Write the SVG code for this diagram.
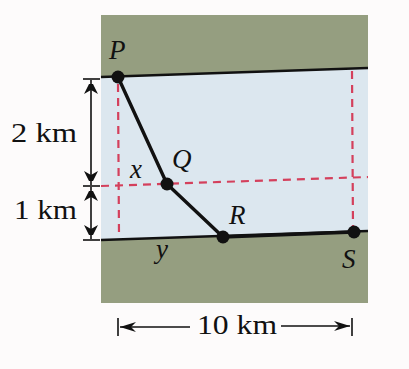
<svg xmlns="http://www.w3.org/2000/svg" width="409" height="369" viewBox="0 0 409 369">
<defs>
<marker id="ah" viewBox="0 0 10 14" refX="14" refY="7" markerWidth="10" markerHeight="14" markerUnits="userSpaceOnUse" orient="auto-start-reverse">
<path d="M0,0 L14,7 L0,14 L4,7 Z" fill="#111"/>
</marker>
<marker id="ah2" viewBox="0 0 16 12" refX="16" refY="6" markerWidth="16" markerHeight="12" markerUnits="userSpaceOnUse" orient="auto-start-reverse">
<path d="M0,1 L16,6 L0,11 L5,6 Z" fill="#111"/>
</marker>
<style>
.dash{stroke:#d4405c;stroke-width:2.2;stroke-dasharray:8 6;fill:none}
.bank{stroke:#111;stroke-width:2.4;fill:none}
.path{stroke:#111;stroke-width:3.4;fill:none;stroke-linecap:round}
.dot{fill:#111}
.lbl{font-family:'Liberation Serif','Times New Roman',serif;font-style:italic;font-size:27px;fill:#111}
.dim{font-family:'Liberation Serif','Times New Roman',serif;font-size:28px;fill:#111}
.dl{stroke:#111;stroke-width:1.6;fill:none}
</style>
</defs>
<rect x="0" y="0" width="409" height="369" fill="#fdfbfb"/>
<g id="land">
<rect x="101" y="15" width="267" height="288" fill="#959e80"/>
<polygon points="101,77 368,68 368,231 101,240" fill="#dce7ef"/>
</g>
<g id="banks">
<line class="bank" x1="101" y1="77" x2="368" y2="68"/>
<line class="bank" x1="101" y1="240" x2="368" y2="231"/>
</g>
<g id="guides">
<line class="dash" x1="118" y1="84" x2="119" y2="236"/>
<line class="dash" x1="101" y1="186" x2="368" y2="177"/>
<line class="dash" x1="352" y1="71" x2="353" y2="229"/>
</g>
<g id="connectors">
<polyline class="path" points="118,77 167,184 223,237 354,232"/>
</g>
<g id="P"><circle class="dot" cx="118" cy="77" r="6.5"/><text class="lbl" font-family="Liberation Serif" x="109" y="59">P</text></g>
<g id="Q"><circle class="dot" cx="167" cy="184" r="6.5"/><text class="lbl" font-family="Liberation Serif" x="172" y="168">Q</text><text class="lbl" font-family="Liberation Serif" x="130" y="178">x</text></g>
<g id="R"><circle class="dot" cx="223" cy="237" r="6.5"/><text class="lbl" font-family="Liberation Serif" x="229" y="224">R</text><text class="lbl" font-family="Liberation Serif" x="156" y="258">y</text></g>
<g id="S"><circle class="dot" cx="354" cy="232" r="6.5"/><text class="lbl" font-family="Liberation Serif" x="342" y="268">S</text></g>
<g id="dim-left">
<line class="dl" x1="83" y1="79" x2="100" y2="79"/>
<line class="dl" x1="83" y1="186" x2="100" y2="186"/>
<line class="dl" x1="83" y1="240" x2="100" y2="240"/>
<line class="dl" x1="91" y1="80" x2="91" y2="185" marker-start="url(#ah)" marker-end="url(#ah)"/>
<line class="dl" x1="91" y1="187" x2="91" y2="239" marker-start="url(#ah)" marker-end="url(#ah)"/>
<text class="dim" font-family="Liberation Serif" x="11" y="142" textLength="66" lengthAdjust="spacingAndGlyphs">2 km</text>
<text class="dim" font-family="Liberation Serif" x="14" y="219" textLength="63" lengthAdjust="spacingAndGlyphs">1 km</text>
</g>
<g id="dim-bottom">
<line class="dl" x1="118" y1="318" x2="118" y2="336"/>
<line class="dl" x1="352" y1="318" x2="352" y2="336"/>
<line class="dl" x1="120" y1="327" x2="190" y2="327" marker-start="url(#ah2)"/>
<line class="dl" x1="281" y1="326" x2="350" y2="326" marker-end="url(#ah2)"/>
<text class="dim" font-family="Liberation Serif" x="197" y="334" textLength="80" lengthAdjust="spacingAndGlyphs">10 km</text>
</g>
</svg>
